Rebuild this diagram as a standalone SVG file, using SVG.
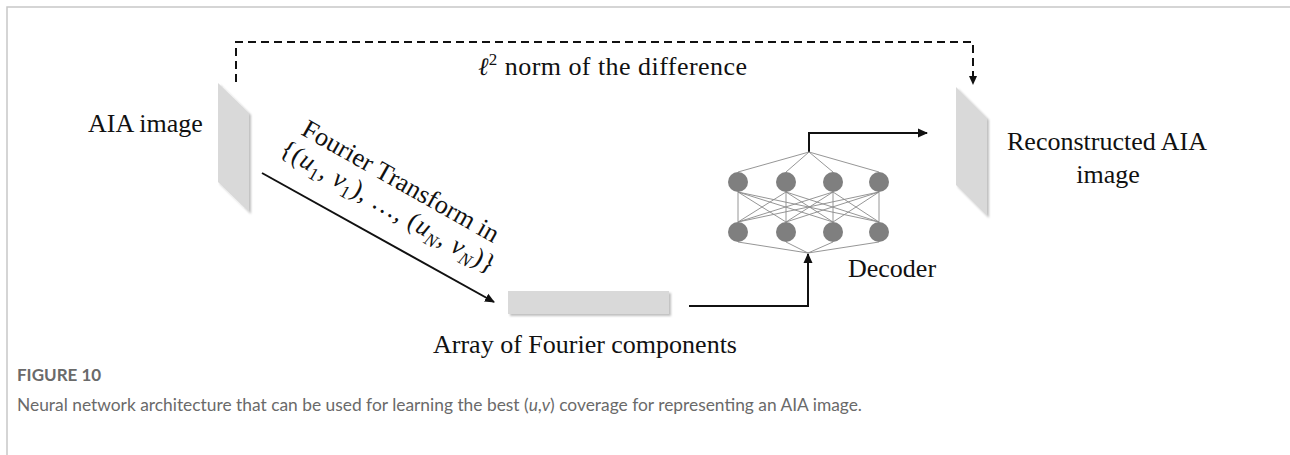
<svg xmlns="http://www.w3.org/2000/svg" width="1290" height="455" viewBox="0 0 1290 455">
<style>
.lbl{font-family:"Liberation Serif","Times New Roman",serif;font-size:26px;fill:#111}
.it{font-style:italic}
.cap{font-family:Lato,"Open Sans",sans-serif;fill:#6a6a6a}
.edge{stroke:#111;stroke-width:2;fill:none}
.net{stroke:#8a8a8a;stroke-width:0.9;fill:none}
.node{fill:#7f7f7f}
.panel{fill:#d9d9d9}
</style>
<defs>
<marker id="ah" viewBox="0 0 10 10" refX="9" refY="5" markerWidth="10" markerHeight="10" markerUnits="userSpaceOnUse" orient="auto">
<path d="M0,0.5 L10,5 L0,9.5 Z" fill="#111"/>
</marker>
<marker id="ahs" viewBox="0 0 10 10" refX="9" refY="5" markerWidth="9" markerHeight="9" markerUnits="userSpaceOnUse" orient="auto">
<path d="M0,0.5 L10,5 L0,9.5 Z" fill="#111"/>
</marker>
<filter id="sh" x="-20%" y="-20%" width="150%" height="150%">
<feDropShadow dx="2" dy="2" stdDeviation="1.2" flood-color="#000" flood-opacity="0.25"/>
</filter>
</defs>
<rect width="1290" height="455" fill="#fff"/>
<path d="M7,455 V7 H1290" fill="none" stroke="#c8c8c8" stroke-width="1.5"/>

<g id="connectors">
<path class="edge" d="M236,82 V42 H973 V84" stroke-dasharray="8,5" marker-end="url(#ahs)"/>
<path class="edge" d="M262,173 L494,302" marker-end="url(#ah)"/>
<path class="edge" d="M689,306 H808 V254" marker-end="url(#ah)"/>
<path class="edge" d="M809,152 V133 H927" marker-end="url(#ah)"/>
</g>

<g id="aia-image">
<polygon class="panel" points="218,83 249,113 249,212 218,182" filter="url(#sh)"/>
<text class="lbl" x="88" y="132">AIA image</text>
</g>

<g id="fourier-label" transform="translate(300,134) rotate(29.5)">
<text class="lbl" x="0" y="0" textLength="222" lengthAdjust="spacingAndGlyphs">Fourier Transform in</text>
<text class="lbl" x="-9" y="28" textLength="243" lengthAdjust="spacing">{(<tspan class="it">u</tspan><tspan font-size="18" dy="6">1</tspan><tspan dy="-6">, </tspan><tspan class="it">v</tspan><tspan font-size="18" dy="6">1</tspan><tspan dy="-6">), …, (</tspan><tspan class="it">u</tspan><tspan font-size="18" dy="6" class="it">N</tspan><tspan dy="-6">, </tspan><tspan class="it">v</tspan><tspan font-size="18" dy="6" class="it">N</tspan><tspan dy="-6">)}</tspan></text>
</g>

<g id="fourier-array">
<rect class="panel" x="508" y="291" width="161" height="23" filter="url(#sh)"/>
<text class="lbl" x="433" y="353">Array of Fourier components</text>
</g>

<g id="decoder">
<g class="net">
<path d="M809,152 L738,172 M809,152 L786,172 M809,152 L833,172 M809,152 L879,172"/>
<path d="M738,192 L738,222 M738,192 L786,222 M738,192 L833,222 M738,192 L879,222"/>
<path d="M786,192 L738,222 M786,192 L786,222 M786,192 L833,222 M786,192 L879,222"/>
<path d="M833,192 L738,222 M833,192 L786,222 M833,192 L833,222 M833,192 L879,222"/>
<path d="M879,192 L738,222 M879,192 L786,222 M879,192 L833,222 M879,192 L879,222"/>
<path d="M738,242 L808,253 M786,242 L808,253 M833,242 L808,253 M879,242 L808,253"/>
</g>
<circle class="node" cx="738" cy="182" r="10"/>
<circle class="node" cx="786" cy="182" r="10"/>
<circle class="node" cx="833" cy="182" r="10"/>
<circle class="node" cx="879" cy="182" r="10"/>
<circle class="node" cx="738" cy="232" r="10"/>
<circle class="node" cx="786" cy="232" r="10"/>
<circle class="node" cx="833" cy="232" r="10"/>
<circle class="node" cx="879" cy="232" r="10"/>
<text class="lbl" x="848" y="277" font-size="23.5">Decoder</text>
</g>

<g id="reconstructed">
<polygon class="panel" points="956,87 987,118 987,216 956,185" filter="url(#sh)"/>
<text class="lbl" x="1007" y="150">Reconstructed AIA</text>
<text class="lbl" x="1108" y="183" text-anchor="middle">image</text>
</g>

<g id="loss-label">
<text class="lbl" x="478" y="75" textLength="269" lengthAdjust="spacing"><tspan class="it" font-family="DejaVu Serif" font-size="25">ℓ</tspan><tspan font-size="17" dy="-10">2</tspan><tspan dy="10"> norm of the difference</tspan></text>
</g>

<g id="caption">
<text class="cap" x="17" y="381" font-size="17" font-weight="700" fill="#595959">FIGURE 10</text>
<text class="cap" x="17" y="411" font-size="17" textLength="845" lengthAdjust="spacingAndGlyphs">Neural network architecture that can be used for learning the best (<tspan font-style="italic">u</tspan>,<tspan font-style="italic">v</tspan>) coverage for representing an AIA image.</text>
</g>
</svg>
